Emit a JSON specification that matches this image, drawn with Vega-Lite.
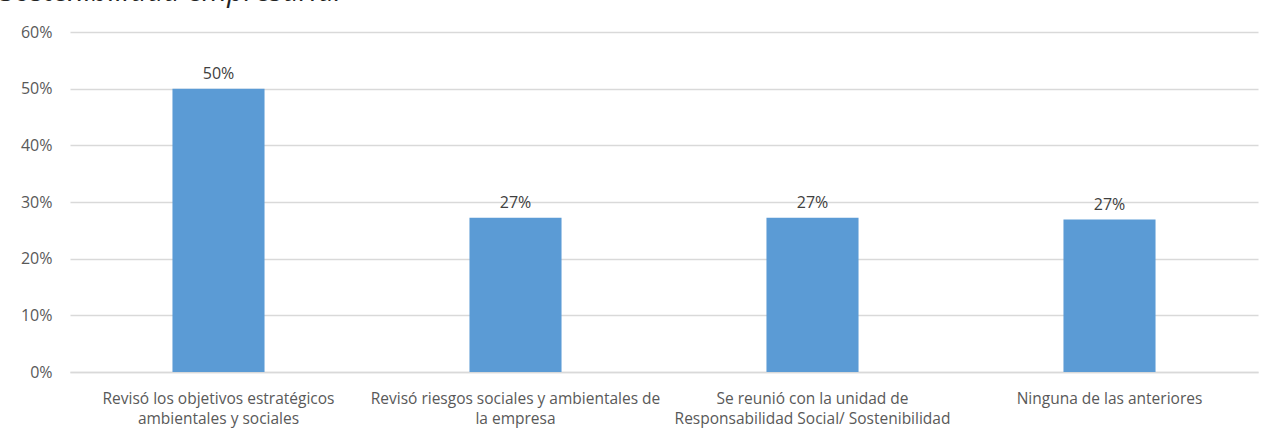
{
  "$schema": "https://vega.github.io/schema/vega-lite/v6.json",
  "autosize": "none",
  "width": 1188,
  "height": 340,
  "padding": {"left": 70, "top": 32, "right": 4, "bottom": 63},
  "background": "white",
  "title": {
    "text": "Sostenibilidad empresarial",
    "anchor": "start",
    "frame": "group",
    "font": "Open Sans",
    "fontSize": 29,
    "fontStyle": "italic",
    "fontWeight": "normal",
    "color": "#222222",
    "baseline": "alphabetic",
    "offset": 8,
    "dx": -70,
    "dy": 14
  },
  "data": {
    "values": [
      {"cat": "Revisó los objetivos estratégicos\nambientales y sociales", "value": 0.5},
      {"cat": "Revisó riesgos sociales y ambientales de\nla empresa", "value": 0.272},
      {"cat": "Se reunió con la unidad de\nResponsabilidad Social/ Sostenibilidad", "value": 0.272},
      {"cat": "Ninguna de las anteriores", "value": 0.269}
    ]
  },
  "encoding": {
    "x": {
      "field": "cat",
      "type": "nominal",
      "sort": null,
      "title": null,
      "scale": {"paddingInner": 0.69, "paddingOuter": 0.345},
      "axis": {
        "labelAngle": 0,
        "labelExpr": "split(datum.value, '\\n')",
        "labelFont": "Open Sans",
        "labelFontSize": 15.5,
        "labelColor": "#595959",
        "labelLineHeight": 20,
        "labelPadding": 19,
        "ticks": false,
        "domainColor": "#d9d9d9",
        "domainWidth": 1.5,
        "labelLimit": 0
      }
    },
    "y": {
      "field": "value",
      "type": "quantitative",
      "title": null,
      "scale": {"domain": [0, 0.6]},
      "axis": {
        "values": [0, 0.1, 0.2, 0.3, 0.4, 0.5, 0.6],
        "format": ".0%",
        "domain": false,
        "ticks": false,
        "gridColor": "#d9d9d9",
        "gridWidth": 1.5,
        "labelFont": "Open Sans",
        "labelFontSize": 16,
        "labelColor": "#595959",
        "labelPadding": 18
      }
    }
  },
  "layer": [
    {"mark": {"type": "bar", "color": "#5B9BD5"}},
    {
      "mark": {"type": "text", "baseline": "bottom", "dy": -7, "font": "Open Sans", "fontSize": 16, "color": "#404040"},
      "encoding": {"text": {"field": "value", "type": "quantitative", "format": ".0%"}}
    }
  ],
  "config": {"view": {"stroke": null}}
}
